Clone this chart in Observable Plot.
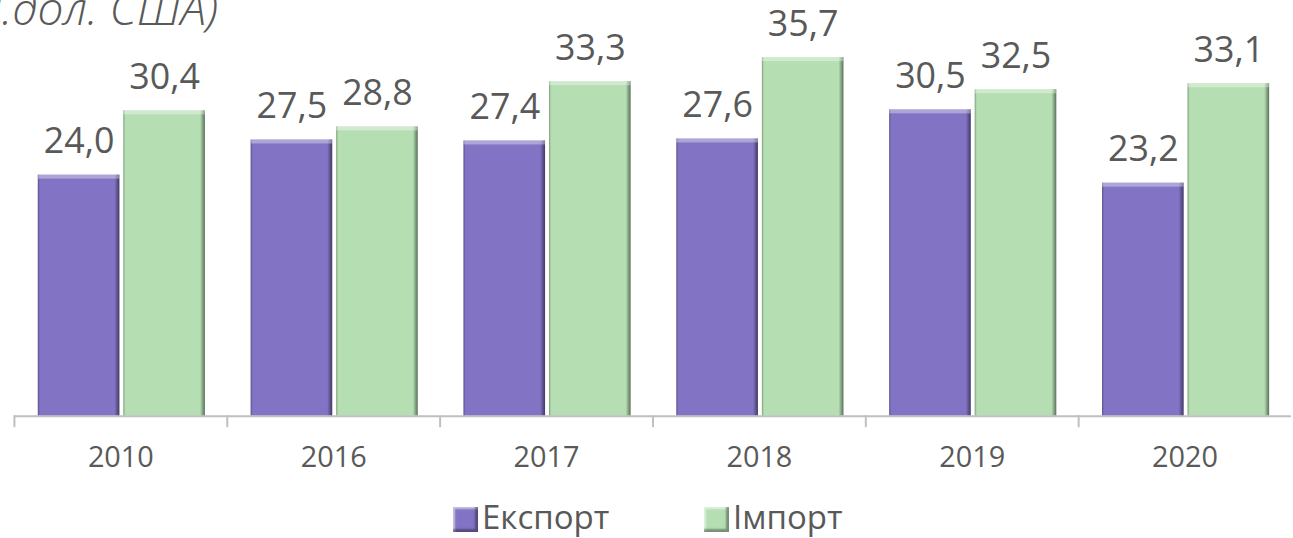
<!DOCTYPE html>
<html><head><meta charset="utf-8">
<script src="https://cdn.jsdelivr.net/npm/d3@7"></script>
<script src="https://cdn.jsdelivr.net/npm/@observablehq/plot@0.6"></script>
<style>
html,body{margin:0;padding:0;background:#fff;overflow:hidden;width:1293px;height:538px}
#wrap{position:relative;width:1293px;height:538px;overflow:hidden;font-family:"Open Sans",sans-serif;color:#595959}
#chart{position:absolute;left:0;top:0}
#title{position:absolute;right:1075px;top:-16px;font-size:46px;line-height:46px;font-style:italic;font-weight:300;white-space:nowrap}
.item{position:absolute;top:500px;display:flex;align-items:flex-start;font-size:33px;line-height:33px;white-space:nowrap}
.sw{width:25px;height:25px;margin-top:7px;margin-right:4px;box-sizing:border-box;box-shadow:inset -3px -3px 2px rgba(0,0,0,0.35),inset 2px 2px 2px rgba(255,255,255,0.55)}
</style>
</head><body>
<div id="wrap">
  <div id="chart"></div>
  <div id="title">(млн.дол. США)</div>
  <div id="legend"></div>
</div>
<script>
const years = ["2010", "2016", "2017", "2018", "2019", "2020"];
const series = ["Експорт", "Імпорт"];
const exportVals = [24.0, 27.5, 27.4, 27.6, 30.5, 23.2];
const importVals = [30.4, 28.8, 33.3, 35.7, 32.5, 33.1];
const colors = ["#8273C4", "#B5DFB3"];

const data = years.flatMap((yr, i) => [
  {year: yr, series: series[0], value: exportVals[i]},
  {year: yr, series: series[1], value: importVals[i]}
]);
const fmt = v => v.toFixed(1).replace(".", ",");

const chart = Plot.plot({
  width: 1300,
  height: 490,
  marginLeft: 13,
  marginRight: 0.5,
  marginTop: 14,
  marginBottom: 72,
  style: {fontFamily: "Open Sans", color: "#595959", background: "white", overflow: "visible"},
  fx: {domain: years, padding: 0, label: null, axis: null},
  x: {domain: series, paddingInner: 0.046, paddingOuter: 0.263, align: 0.53, axis: null},
  y: {domain: [0, 40], axis: null},
  color: {domain: series, range: colors},
  marks: [
    Plot.barY(data, {fx: "year", x: "series", y: "value", fill: "series"}),
    Plot.barY(data, {fx: "year", x: "series", y: "value", fill: "url(#bevelH)"}),
    Plot.barY(data, {fx: "year", x: "series", y1: "value", y2: "value", insetBottom: -4, fill: "white", fillOpacity: 0.35}),
    Plot.ruleY([0], {stroke: "#BFBFBF", strokeWidth: 2}),
    Plot.frame({anchor: "left", stroke: "#BFBFBF", strokeWidth: 2, insetTop: 404, insetBottom: -10}),
    Plot.text(data, {fx: "year", x: "series", y: "value", text: d => fmt(d.value), dy: -22, lineAnchor: "bottom", fontSize: 36, fill: "#595959"}),
    Plot.axisFx({anchor: "bottom", tickSize: 0, tickPadding: 30, fontSize: 29, label: null, fill: "#595959"})
  ]
});

const svg = d3.select(chart);
const defs = svg.insert("defs", ":first-child");
const g = defs.append("linearGradient").attr("id", "bevelH")
  .attr("x1", 0).attr("x2", 1).attr("y1", 0).attr("y2", 0);
[[0, 0.3], [0.025, 0], [0.94, 0], [1, 0.5]].forEach(([o, a]) =>
  g.append("stop").attr("offset", o).attr("stop-color", "#000").attr("stop-opacity", a));

document.getElementById("chart").appendChild(chart);

const legend = document.getElementById("legend");
const lefts = [453, 704];
series.forEach((s, i) => {
  const item = document.createElement("div");
  item.className = "item";
  item.style.left = lefts[i] + "px";
  const sw = document.createElement("span");
  sw.className = "sw";
  sw.style.background = colors[i];
  const t = document.createElement("span");
  t.textContent = s;
  item.appendChild(sw);
  item.appendChild(t);
  legend.appendChild(item);
});
</script>
</body></html>
